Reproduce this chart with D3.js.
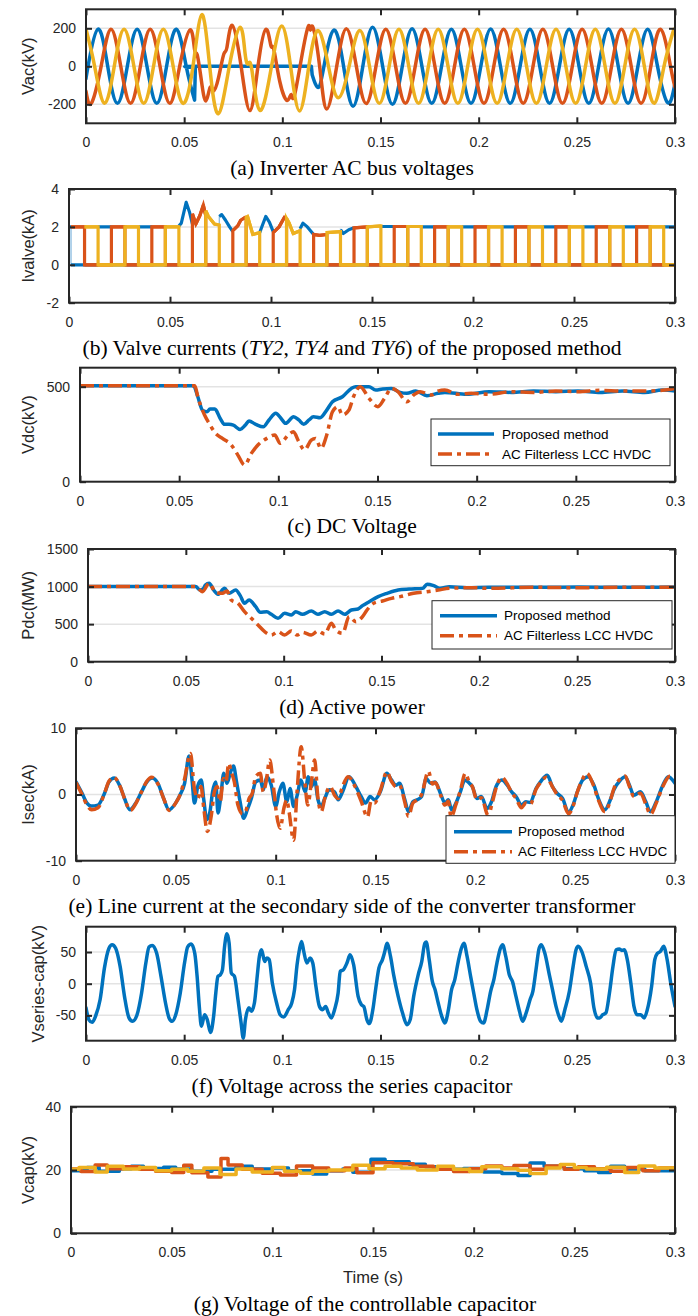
<!DOCTYPE html>
<html><head><meta charset="utf-8">
<script src="https://cdn.jsdelivr.net/npm/d3@7"></script>
<style>
body{margin:0;background:#fff;}
svg{display:block;}
</style></head><body>
<script>
// ---------------- DATA ----------------
const xTicks = [0, 0.05, 0.1, 0.15, 0.2, 0.25, 0.3];
const xTickLabels = ['0', '0.05', '0.1', '0.15', '0.2', '0.25', '0.3'];
const seriesNames = ['Proposed method', 'AC Filterless LCC HVDC'];

// (a) Inverter AC bus voltages (kV); null = straight join
const vacA = [[0,-65],[0.00105,0],[0.00605,195],[0.01105,0],[0.01605,-195],[0.02105,0],[0.02605,195],[0.03105,0],[0.03605,-195],[0.04105,0],[0.04605,195],[0.05105,0],[0.0553,-178],
 null,[0.0557,-5],[0.0561,0],[0.1148,0],
 null,[0.1152,-45],[0.1168,-92],[0.1188,-108],[0.1212,0],[0.1262,190],[0.1312,0],[0.136,-210],[0.141,0],[0.146,205],[0.1511,0],[0.1561,-200],[0.1611,0],[0.1661,197],[0.1711,0],[0.1761,-195],[0.1811,0],[0.1861,195],[0.1911,0],[0.1961,-195],[0.2011,0],[0.2061,196],[0.2111,0],[0.2161,-195],[0.2211,0],[0.2261,195],[0.2311,0],[0.2361,-195],[0.2411,0],[0.2461,195],[0.2511,0],[0.2561,-195],[0.2611,0],[0.2661,196],[0.2711,0],[0.2761,-195],[0.2811,0],[0.2861,195],[0.2911,0],[0.2963,-192],[0.3,-90]];
const vacB = [[0,-132],[0.0027,-195],[0.0077,0],[0.0127,195],[0.0177,0],[0.0227,-195],[0.0277,0],[0.0327,195],[0.0377,0],[0.0427,-195],[0.0477,0],[0.053,192],[0.0553,88],[0.0566,62],[0.0587,-70],[0.061,-183],[0.0632,-112],[0.065,-130],[0.0675,-60],[0.0702,65],[0.0718,100],[0.0745,215],[0.079,0],[0.0835,-233],[0.0876,0],[0.0916,195],[0.0942,108],[0.0956,92],[0.0987,-80],[0.1025,-180],[0.1045,-148],[0.106,-160],[0.1097,40],[0.1132,210],[0.1143,190],[0.1156,205],[0.119,0],[0.1226,-225],[0.1277,0],[0.1327,197],[0.1377,0],[0.1427,-196],[0.1477,0],[0.1527,195],[0.1577,0],[0.1627,-195],[0.1677,0],[0.1727,195],[0.1777,0],[0.1827,-195],[0.1877,0],[0.1927,195],[0.1977,0],[0.2027,-195],[0.2077,0],[0.2127,195],[0.2177,0],[0.2227,-195],[0.2277,0],[0.2327,195],[0.2377,0],[0.2427,-195],[0.2477,0],[0.2527,195],[0.2577,0],[0.2627,-195],[0.2677,0],[0.2727,195],[0.2777,0],[0.2827,-195],[0.2877,0],[0.2927,195],[0.2977,0],[0.3,-110]];
const vacC = [[0,195],[0.0044,0],[0.0094,-195],[0.0144,0],[0.0194,195],[0.0244,0],[0.0294,-195],[0.0344,0],[0.0394,195],[0.0444,0],[0.0494,-195],[0.0545,0],[0.059,272],[0.063,0],[0.0674,-250],[0.073,0],[0.0785,205],[0.081,70],[0.0826,12],[0.0845,-20],[0.0886,-232],[0.0945,0],[0.0997,212],[0.1042,0],[0.1088,-235],[0.1135,0],[0.1183,188],[0.1235,0],[0.1285,-165],[0.134,0],[0.1394,188],[0.1444,0],[0.1494,-195],[0.1544,0],[0.1594,195],[0.1644,0],[0.1694,-195],[0.1744,0],[0.1794,195],[0.1844,0],[0.1894,-195],[0.1944,0],[0.1994,195],[0.2044,0],[0.2094,-195],[0.2144,0],[0.2194,195],[0.2244,0],[0.2294,-195],[0.2344,0],[0.2394,195],[0.2444,0],[0.2494,-195],[0.2544,0],[0.2594,195],[0.2644,0],[0.2694,-195],[0.2744,0],[0.2794,195],[0.2844,0],[0.2894,-195],[0.2944,0],[0.2994,195]];

// (b) Valve currents (kA): normal pulses [on, off, level], fault pulse profiles [[t,v],...]
const ty2Pulses = [[0,0.001,2.0],[0.0144,0.0211,2.0],[0.0344,0.0411,2.0],[0.1544,0.1611,2.02],[0.1744,0.1811,2.0],[0.1944,0.2011,2.0],[0.2144,0.2211,2.0],[0.2344,0.2411,2.0],[0.2544,0.2611,2.0],[0.2744,0.2811,2.0],[0.2944,0.3,2.0]];
const ty2Fault = [[[0.0544,2.05],[0.0556,2.2],[0.058,3.3],[0.0596,2.8],[0.0611,2.15]],
 [[0.0744,2.55],[0.0756,2.65],[0.0775,2.35],[0.0795,2.0],[0.0811,1.75]],
 [[0.0944,1.7],[0.0958,2.1],[0.0974,2.55],[0.0992,2.25],[0.1011,1.75]],
 [[0.1144,1.9],[0.1158,2.2],[0.118,2.0],[0.1211,1.6]],
 [[0.1344,1.85],[0.1358,1.65],[0.1385,1.85],[0.1411,1.95]]];
const ty4Pulses = [[0.001,0.0077,2.0],[0.021,0.0277,2.0],[0.041,0.0477,2.0],[0.161,0.1677,2.02],[0.181,0.1877,2.0],[0.201,0.2077,2.0],[0.221,0.2277,2.0],[0.241,0.2477,2.0],[0.261,0.2677,2.0],[0.281,0.2877,2.0]];
const ty4Fault = [[[0.0611,2.7],[0.0628,2.15],[0.0648,2.6],[0.0665,3.15],[0.0677,2.6]],
 [[0.0811,1.8],[0.0835,2.05],[0.085,2.35],[0.0872,2.5],[0.0877,2.45]],
 [[0.1011,1.7],[0.104,2.0],[0.1066,2.5],[0.1077,2.4]],
 [[0.1211,1.6],[0.124,1.55],[0.1277,1.6]],
 [[0.1411,1.95],[0.1477,2.0]]];
const ty6Pulses = [[0.0077,0.0144,2.0],[0.0277,0.0344,2.0],[0.0477,0.0544,2.0],[0.1677,0.1744,2.02],[0.1877,0.1944,2.0],[0.2077,0.2144,2.0],[0.2277,0.2344,2.0],[0.2477,0.2544,2.0],[0.2677,0.2744,2.0],[0.2877,0.2944,2.0]];
const ty6Fault = [[[0.0677,2.85],[0.069,2.55],[0.072,2.15],[0.0744,2.1]],
 [[0.0877,2.5],[0.0884,2.55],[0.091,1.6],[0.0944,1.7]],
 [[0.1077,2.45],[0.109,2.2],[0.111,1.65],[0.1144,1.8]],
 [[0.1277,1.7],[0.1344,1.75]],
 [[0.1477,2.0],[0.1544,2.05]]];

// (c) DC voltage (kV)
const vdcProposed = [[0,505],[0.0572,505],[0.0594,447],[0.0617,377],[0.064,368],[0.0655,382],[0.068,382],[0.0707,333],[0.0729,302],[0.0751,302],[0.0773,298],[0.0807,275],[0.0834,298],[0.0852,319],[0.0886,302],[0.0924,289],[0.0953,325],[0.0987,360],[0.1014,333],[0.1036,307],[0.1077,342],[0.1103,325],[0.1128,302],[0.1155,325],[0.1177,342],[0.1211,337],[0.1244,377],[0.1273,421],[0.1323,447],[0.1368,491],[0.139,500],[0.1457,500],[0.1491,482],[0.1525,488],[0.157,491],[0.1614,470],[0.1648,465],[0.1693,477],[0.1749,453],[0.1805,465],[0.1839,470],[0.195,460],[0.2063,474],[0.2175,470],[0.2287,477],[0.2399,474],[0.2511,477],[0.2623,470],[0.2735,477],[0.2847,470],[0.2937,482],[0.3,477]];
const vdcFilterless = [[0,505],[0.0579,505],[0.0594,447],[0.0628,351],[0.0651,307],[0.0684,254],[0.0718,228],[0.0763,193],[0.0796,140],[0.083,88],[0.0864,149],[0.0897,193],[0.0942,228],[0.0982,246],[0.1009,202],[0.105,246],[0.1076,263],[0.1103,211],[0.1132,167],[0.1166,219],[0.1188,228],[0.1215,175],[0.1244,246],[0.1273,368],[0.13,395],[0.1323,351],[0.1356,377],[0.1379,447],[0.1413,500],[0.1457,439],[0.1502,395],[0.1536,439],[0.157,491],[0.1603,474],[0.1648,421],[0.1682,456],[0.1715,474],[0.1772,456],[0.1805,477],[0.1839,482],[0.1906,460],[0.1973,465],[0.2063,460],[0.2175,474],[0.2287,470],[0.2399,477],[0.2511,474],[0.2623,481],[0.2735,477],[0.2847,477],[0.2937,481],[0.3,491]];

// (d) Active power (MW)
const pdcProposed = [[0,1000],[0.055,1000],[0.0573,954],[0.0591,976],[0.06,1021],[0.0619,1043],[0.0642,954],[0.0664,897],[0.0698,976],[0.0721,910],[0.0755,954],[0.0778,879],[0.08,777],[0.0823,821],[0.0857,732],[0.088,657],[0.0914,666],[0.0937,630],[0.0971,577],[0.1005,644],[0.1039,621],[0.1062,666],[0.1096,630],[0.1141,675],[0.1175,630],[0.121,666],[0.1244,630],[0.1278,675],[0.1312,630],[0.1346,688],[0.138,701],[0.1403,746],[0.1437,799],[0.1483,866],[0.1528,910],[0.1585,954],[0.1641,967],[0.171,976],[0.1733,1030],[0.1767,1012],[0.1801,976],[0.1846,998],[0.1937,985],[0.2051,990],[0.2278,990],[0.2506,994],[0.2733,990],[0.3,994]];
const pdcFilterless = [[0,1000],[0.055,1000],[0.0585,932],[0.0619,1043],[0.0653,923],[0.0687,910],[0.071,941],[0.0732,821],[0.0767,777],[0.08,666],[0.0835,577],[0.0869,488],[0.0903,400],[0.0937,355],[0.0971,400],[0.1005,355],[0.1039,409],[0.1069,355],[0.1096,391],[0.1141,355],[0.1175,409],[0.121,369],[0.1244,511],[0.1266,422],[0.1301,378],[0.1335,599],[0.1369,533],[0.1403,599],[0.1426,688],[0.146,777],[0.1505,808],[0.1551,843],[0.1596,866],[0.1664,910],[0.1733,932],[0.179,954],[0.1846,976],[0.196,985],[0.2051,976],[0.2278,990],[0.2506,985],[0.2733,990],[0.3,990]];

// (e) Line current at transformer secondary (kA)
const isecProposed = [[0,1.9],[0.003,0.2],[0.0055,-1.3],[0.0076,-1.75],[0.011,-1.6],[0.0143,0.2],[0.0165,1.9],[0.0192,2.5],[0.0221,1.2],[0.0243,-0.6],[0.027,-2.3],[0.0299,-1.3],[0.0328,0.4],[0.0355,1.9],[0.0381,2.5],[0.041,1.7],[0.0439,-0.6],[0.0466,-2.3],[0.0499,-1.3],[0.0522,0],[0.0544,1.7],[0.0566,5.8],[0.0582,1.9],[0.0593,-1.3],[0.0611,1.4],[0.0627,2.2],[0.064,-0.8],[0.0655,-3.8],[0.0671,-2.6],[0.0684,0.4],[0.07,1.9],[0.0711,-2.8],[0.0724,-0.6],[0.074,3.2],[0.0756,1.7],[0.0774,3.4],[0.0789,4.3],[0.0804,1.9],[0.0822,-1.1],[0.084,-3.6],[0.0858,-2.3],[0.0878,-0.6],[0.09,1.9],[0.0923,2.2],[0.0938,0.7],[0.0956,2.7],[0.0978,1.4],[0.1,-1.8],[0.1018,0.4],[0.1036,1.7],[0.1056,-1.1],[0.1072,0.9],[0.109,-1.8],[0.1108,-0.1],[0.1126,2.2],[0.1148,0.4],[0.1163,2.7],[0.1179,1.2],[0.1195,2.2],[0.1212,-0.8],[0.1228,-1.8],[0.1246,-0.6],[0.1268,0.7],[0.1295,0.4],[0.1313,-0.8],[0.1335,0.4],[0.1368,2.7],[0.1402,1.2],[0.1428,-0.3],[0.145,-1.3],[0.1473,-0.3],[0.1495,-0.8],[0.1524,0.4],[0.1557,3.2],[0.158,2.2],[0.1603,1.4],[0.162,1.7],[0.1647,-0.8],[0.1665,-2.6],[0.1687,-1.1],[0.1709,-0.8],[0.1731,-0.3],[0.1754,2.4],[0.1776,1.7],[0.1798,1.9],[0.1825,0.2],[0.1848,-1.3],[0.1865,-0.8],[0.1881,-2.3],[0.1903,-1.3],[0.1925,0.4],[0.1948,2.2],[0.197,1.7],[0.1985,1.2],[0.2008,-0.6],[0.203,-0.3],[0.2059,-2.1],[0.2081,-1.1],[0.2104,1.2],[0.2133,2.2],[0.216,1.4],[0.2182,0.4],[0.2204,-0.3],[0.2231,-1.6],[0.2253,-1.1],[0.2275,-1.2],[0.2304,0.9],[0.2326,1.9],[0.236,2.9],[0.2386,1.2],[0.2409,0.2],[0.2437,-0.6],[0.2467,-2.7],[0.2489,-1.6],[0.2511,0.4],[0.2538,2.2],[0.2565,2.7],[0.2594,1.4],[0.2616,-0.6],[0.2649,-2.3],[0.2672,-1.1],[0.2694,0.7],[0.2727,2.2],[0.275,2.7],[0.2772,1.4],[0.2794,-0.1],[0.2827,0.4],[0.2854,-1.1],[0.2877,-2.6],[0.2906,-1.1],[0.2939,1.4],[0.2966,2.7],[0.3,1.7]];
const isecFilterless = [[0,1.8],[0.003,0],[0.0055,-1.6],[0.0078,-2.3],[0.011,-2.0],[0.0143,0.2],[0.0165,2.0],[0.019,2.6],[0.0221,1.2],[0.0243,-0.6],[0.0272,-2.4],[0.0299,-1.4],[0.0328,0.4],[0.0355,2.0],[0.0378,2.6],[0.041,1.6],[0.0439,-0.6],[0.0466,-2.4],[0.0499,-1.3],[0.0522,0],[0.0544,2.4],[0.0573,6.2],[0.0593,0.9],[0.0611,-0.6],[0.0626,1.2],[0.064,-2.1],[0.0658,-5.6],[0.0678,-3.1],[0.0693,0.4],[0.0707,1.2],[0.0722,-1.1],[0.0738,2.4],[0.0751,1.9],[0.0765,4.7],[0.0778,3.4],[0.0793,1.9],[0.0811,-1.6],[0.0834,-2.9],[0.0849,-2.6],[0.0867,-0.6],[0.0883,0.2],[0.09,2.7],[0.0923,3.2],[0.0938,0.4],[0.0952,1.9],[0.097,5.2],[0.099,0.9],[0.1005,-3.1],[0.1023,-5.1],[0.1041,-2.1],[0.1056,-0.8],[0.1067,-2.6],[0.109,-6.9],[0.1107,0.4],[0.1128,7.2],[0.1146,1.9],[0.1161,-1.6],[0.1179,1.9],[0.1195,5.2],[0.1212,-0.6],[0.1228,-2.6],[0.125,-0.1],[0.1273,1.2],[0.1295,-0.1],[0.1313,-0.6],[0.1335,1.2],[0.1362,2.7],[0.1402,0.9],[0.1428,-1.0],[0.146,-3.4],[0.1478,-1.0],[0.1495,-1.3],[0.1524,0.6],[0.1557,3.4],[0.158,2.0],[0.1603,1.2],[0.162,1.4],[0.1647,-1.2],[0.1665,-3.3],[0.1687,-1.3],[0.1709,-0.8],[0.1731,0],[0.1765,3.5],[0.1785,1.6],[0.18,1.8],[0.1825,0],[0.1848,-1.6],[0.1865,-1.0],[0.1878,-3.4],[0.1903,-1.5],[0.1925,0.6],[0.195,3.2],[0.197,1.8],[0.1985,1.2],[0.2008,-0.8],[0.203,-0.5],[0.2065,-3.2],[0.2085,-1.2],[0.2104,1.0],[0.2133,2.6],[0.216,1.6],[0.218,0.4],[0.2204,-0.6],[0.2231,-2.0],[0.2253,-1.3],[0.2275,-1.5],[0.2304,0.8],[0.2326,1.8],[0.2355,2.6],[0.2386,1.2],[0.2409,0],[0.2437,-0.9],[0.2467,-2.9],[0.2489,-1.8],[0.2511,0.4],[0.2538,2.4],[0.2558,3.2],[0.259,1.5],[0.2616,-0.8],[0.2649,-2.6],[0.2672,-1.3],[0.2694,0.9],[0.2727,2.4],[0.275,2.8],[0.2772,1.2],[0.2794,-0.3],[0.2827,0.2],[0.2854,-1.5],[0.2877,-3.0],[0.2906,-1.3],[0.2939,1.2],[0.2975,2.8],[0.3,2.6]];

// (f) Voltage across the series capacitor (kV)
const vSeriesCap = [[0,-38],[0.0015,-57],[0.0031,-61],[0.0049,-51],[0.0072,-25],[0.0094,25],[0.0117,56],[0.0133,61.5],[0.0151,56],[0.0174,27],[0.0196,-20],[0.0219,-54],[0.0237,-59.4],[0.026,-49],[0.0283,-15],[0.0305,33],[0.0321,58],[0.0337,60.5],[0.036,48],[0.0382,11.6],[0.0405,-30.5],[0.0423,-54],[0.0439,-59.4],[0.0457,-49],[0.048,-15],[0.0502,33],[0.0518,58],[0.0536,62.6],[0.0554,48],[0.0566,11.6],[0.0577,-35.8],[0.0588,-67],[0.0604,-49],[0.0618,-57],[0.0634,-77],[0.065,-51.5],[0.0661,-15],[0.0672,11.6],[0.0684,14],[0.0695,22],[0.0706,59],[0.0718,79],[0.0729,64],[0.074,16.8],[0.0756,11.6],[0.0774,-25],[0.079,-62],[0.0801,-86],[0.0812,-57],[0.083,-38],[0.0842,-43.6],[0.0858,-30],[0.0872,11.6],[0.0883,43],[0.0894,53.6],[0.091,35],[0.0921,40.5],[0.0933,38],[0.0949,1],[0.0971,-30.5],[0.0989,-49],[0.1007,-52.6],[0.103,-41],[0.1048,-30.5],[0.1062,-9.5],[0.1075,30],[0.1087,53.6],[0.1098,66.8],[0.1109,51],[0.1125,32.6],[0.1141,40.5],[0.1155,32.6],[0.1171,-4],[0.1189,-35.8],[0.1205,-41],[0.1221,-36],[0.1234,-46],[0.125,-54],[0.1266,-41],[0.1284,-15],[0.1295,19.5],[0.1311,22],[0.1329,32.6],[0.1345,45.7],[0.1363,30],[0.1386,-20],[0.1402,-33],[0.1415,-36],[0.1431,-57],[0.1443,-63],[0.1461,-41],[0.1476,-7],[0.1492,25],[0.151,38],[0.1522,51],[0.1533,64],[0.1551,43],[0.1567,14],[0.159,-20],[0.1612,-46],[0.1635,-64.7],[0.1651,-57],[0.1669,-20],[0.1692,14],[0.171,35],[0.1726,64],[0.1733,65.7],[0.1748,38],[0.1764,3.7],[0.1778,-9.5],[0.1794,-30.5],[0.1812,-51.5],[0.1828,-62],[0.1846,-41],[0.1862,-9.5],[0.1878,6],[0.1896,35],[0.1912,56],[0.1925,64],[0.1941,43],[0.1959,11.6],[0.1975,-15],[0.1991,-41],[0.2009,-59],[0.2025,-62],[0.2043,-41],[0.2061,-12],[0.2077,6],[0.2093,32.6],[0.2111,56],[0.2122,61.5],[0.2138,43],[0.2156,14],[0.2172,3.7],[0.219,-20],[0.2208,-43.6],[0.2224,-59.4],[0.2242,-46],[0.2262,-25],[0.2276,-12],[0.2292,22],[0.2308,56],[0.2319,61.5],[0.2337,48],[0.236,14],[0.2376,-9.5],[0.2394,-35.8],[0.2412,-54],[0.2421,-59.4],[0.2439,-41],[0.2462,-12],[0.248,25],[0.2496,53.6],[0.2507,59],[0.2525,51],[0.2548,27],[0.257,1],[0.2587,-38],[0.2605,-54],[0.2616,-54],[0.2632,-49],[0.2648,-46],[0.2666,-15],[0.2684,27],[0.27,53.6],[0.2716,54.7],[0.2729,52.6],[0.2741,53.6],[0.2757,38],[0.2775,1],[0.2791,-35.8],[0.2807,-49],[0.2825,-49],[0.2843,-54],[0.2859,-41],[0.2881,-4],[0.2897,38],[0.291,48],[0.2926,51],[0.2942,59],[0.296,38],[0.2978,1],[0.3,-35.8]];

// (g) Voltage of the controllable capacitor (kV), step values
const vcapA = [[0,19.8],[0.008,20.8],[0.014,19.6],[0.024,20.4],[0.03,21.2],[0.036,20.5],[0.046,20.9],[0.052,20.3],[0.06,19.6],[0.07,20.2],[0.082,21.2],[0.09,20.3],[0.1,20.6],[0.108,19.8],[0.12,18.7],[0.127,19.8],[0.135,20.3],[0.14,19.3],[0.149,23.4],[0.156,22.6],[0.168,21.8],[0.176,21],[0.186,20.2],[0.195,20.5],[0.205,19.4],[0.214,18.9],[0.222,18.3],[0.228,22.2],[0.235,21.2],[0.245,20.4],[0.255,19.8],[0.262,19.2],[0.268,21.2],[0.275,20.3],[0.285,19.8],[0.3,20]];
const vcapB = [[0,20.3],[0.005,19.5],[0.012,21.6],[0.018,20.4],[0.026,21],[0.034,20.2],[0.042,19.6],[0.05,19.2],[0.056,21.5],[0.06,19.1],[0.068,17.8],[0.0745,23.6],[0.078,21.6],[0.085,20.2],[0.095,19],[0.104,18.4],[0.112,21.3],[0.12,20.6],[0.128,19.8],[0.136,20.6],[0.142,19.1],[0.15,22.3],[0.16,22],[0.17,21.2],[0.18,20.2],[0.19,19.5],[0.198,20.4],[0.206,21.3],[0.214,20.6],[0.22,21.4],[0.228,20.2],[0.236,21.3],[0.245,20.2],[0.252,21],[0.26,20.4],[0.268,19.6],[0.276,20.8],[0.284,19.8],[0.292,20.6],[0.3,20.6]];
const vcapC = [[0,20.2],[0.004,20.8],[0.012,19.4],[0.018,21.2],[0.026,20.3],[0.034,20.8],[0.042,19.8],[0.05,20.2],[0.058,19.6],[0.066,20.6],[0.074,18.6],[0.082,20.3],[0.09,19.4],[0.1,20.8],[0.106,19.6],[0.114,19],[0.12,19.6],[0.128,20],[0.14,21.5],[0.148,20.4],[0.156,21.2],[0.164,20.6],[0.172,20],[0.182,21.2],[0.19,20.2],[0.198,19.5],[0.204,21],[0.214,20.4],[0.222,19.9],[0.228,18.9],[0.236,20.6],[0.243,21.7],[0.25,20.8],[0.256,20.3],[0.266,20.9],[0.275,19.2],[0.282,21.3],[0.29,20.6],[0.3,20.8]];

// ---------------- DRAWING ----------------
const W = 698, H = 1316, RIGHT = 675;
const COL = {blue:'#0072BD', orange:'#D95319', yellow:'#EDB120', axis:'#262626', grid:'#e3e3e3'};
const SANS = '"Liberation Sans", Arial, sans-serif';
const SERIF = '"Liberation Serif", "Times New Roman", serif';
const DASHDOT = '14,5,4,5';

const svg = d3.select('body').append('svg').attr('width', W).attr('height', H);
svg.append('rect').attr('width', W).attr('height', H).attr('fill', '#fff');

function pathFrom(points, curve, x, y) {
  const segs = [[]];
  points.forEach(p => { if (p === null) segs.push([]); else segs[segs.length - 1].push(p); });
  const gen = d3.line().x(d => x(d[0])).y(d => y(d[1])).curve(curve);
  return segs.filter(s => s.length).map((s, i) => { const d = gen(s); return i === 0 ? d : d.replace(/^M/, 'L'); }).join('');
}

// valve waveform: list of level segments (on-profiles and zero stretches between them)
function valveSegments(normal, fault, tEnd) {
  const profiles = normal.map(p => [[p[0], p[2]], [p[1], p[2]]]).concat(fault);
  profiles.sort((a, b) => a[0][0] - b[0][0]);
  const segs = [];
  let tPrev = null;
  profiles.forEach(pr => {
    if (tPrev !== null && pr[0][0] > tPrev) segs.push([[tPrev, 0], [pr[0][0], 0]]);
    segs.push(pr);
    tPrev = pr[pr.length - 1][0];
  });
  if (tPrev < tEnd) segs.push([[tPrev, 0], [tEnd, 0]]);
  return segs;
}
function segmentsToPoints(segs) {
  const pts = [];
  segs.forEach(s => s.forEach(p => pts.push(p)));
  return pts;
}

function drawPanel(cfg) {
  const x = d3.scaleLinear().domain([0, 0.3]).range([cfg.left, RIGHT]);
  const y = d3.scaleLinear().domain(cfg.yDomain).range([cfg.bottom, cfg.top]);
  const g = svg.append('g');

  g.selectAll('line.grid').data(cfg.yTicks.filter(v => v > cfg.yDomain[0] && v < cfg.yDomain[1]))
    .join('line').attr('class', 'grid')
    .attr('x1', cfg.left).attr('x2', RIGHT).attr('y1', d => y(d)).attr('y2', d => y(d))
    .attr('stroke', COL.grid).attr('stroke-width', 1.5);

  const cid = 'clip-' + cfg.id;
  g.append('clipPath').attr('id', cid).append('rect')
    .attr('x', cfg.left).attr('y', cfg.top).attr('width', RIGHT - cfg.left).attr('height', cfg.bottom - cfg.top);
  const lg = g.append('g').attr('clip-path', `url(#${cid})`);
  cfg.series.forEach(s => {
    if (s.segments) {
      const segs = s.segments(x);
      const full = d3.line().x(d => x(d[0])).y(d => y(d[1]))(segmentsToPoints(segs));
      lg.append('path').attr('d', full).attr('fill', 'none')
        .attr('stroke', s.edgeColor || s.color).attr('stroke-width', s.edgeWidth || s.width || 3.2);
      const gen = d3.line().x(d => x(d[0])).y(d => y(d[1]));
      lg.append('path').attr('d', segs.map(sg => gen(sg)).join('')).attr('fill', 'none')
        .attr('stroke', s.color).attr('stroke-width', s.width || 3.2).attr('stroke-linejoin', 'round');
      return;
    }
    lg.append('path').attr('d', pathFrom(s.data, s.curve || cfg.curve, x, y))
      .attr('fill', 'none').attr('stroke', s.color).attr('stroke-width', s.width || 3.5)
      .attr('stroke-linejoin', 'round').attr('stroke-linecap', s.dash ? 'butt' : 'round')
      .attr('stroke-dasharray', s.dash || null);
  });

  const axB = g.append('g').attr('transform', `translate(0,${cfg.bottom})`)
    .call(d3.axisBottom(x).tickValues(xTicks).tickFormat((d, i) => xTickLabels[i]).tickSizeInner(-6).tickSizeOuter(0).tickPadding(14));
  const axT = g.append('g').attr('transform', `translate(0,${cfg.top})`)
    .call(d3.axisTop(x).tickValues(xTicks).tickFormat('').tickSizeInner(-6).tickSizeOuter(0));
  const axL = g.append('g').attr('transform', `translate(${cfg.left},0)`)
    .call(d3.axisLeft(y).tickValues(cfg.yTicks).tickFormat(d => String(d)).tickSizeInner(-6).tickSizeOuter(0).tickPadding(10));
  const axR = g.append('g').attr('transform', `translate(${RIGHT},0)`)
    .call(d3.axisRight(y).tickValues(cfg.yTicks).tickFormat('').tickSizeInner(-6).tickSizeOuter(0));
  [axB, axT, axL, axR].forEach(a => {
    a.select('.domain').remove();
    a.selectAll('.tick line').attr('stroke', COL.axis).attr('stroke-width', 2);
    a.selectAll('.tick text').attr('fill', COL.axis).style('font-family', SANS).style('font-size', '14px');
  });
  g.append('rect').attr('x', cfg.left).attr('y', cfg.top).attr('width', RIGHT - cfg.left).attr('height', cfg.bottom - cfg.top)
    .attr('fill', 'none').attr('stroke', COL.axis).attr('stroke-width', 2);

  g.append('text').attr('transform', `translate(${cfg.yLabelX},${(cfg.top + cfg.bottom) / 2}) rotate(-90)`)
    .attr('text-anchor', 'middle').attr('dominant-baseline', 'central')
    .style('font-family', SANS).style('font-size', '16.5px').attr('fill', COL.axis).text(cfg.yLabel);

  if (cfg.legend) {
    const L = cfg.legend;
    g.append('rect').attr('x', L.x0).attr('y', L.y0).attr('width', L.x1 - L.x0).attr('height', L.y1 - L.y0)
      .attr('fill', '#fff').attr('stroke', COL.axis).attr('stroke-width', 1);
    L.items.forEach((it, i) => {
      const yy = L.rows[i];
      g.append('line').attr('x1', L.s0).attr('x2', L.s1).attr('y1', yy).attr('y2', yy)
        .attr('stroke', it.color).attr('stroke-width', 3.5).attr('stroke-dasharray', it.dash || null);
      g.append('text').attr('x', L.tx).attr('y', yy).attr('dominant-baseline', 'central')
        .style('font-family', SANS).style('font-size', '13.5px').attr('fill', '#000').text(it.name);
    });
  }

  const cap = g.append('text').attr('x', cfg.capX || 352).attr('y', cfg.capY).attr('dy', '0.35em')
    .attr('text-anchor', 'middle').style('font-family', SERIF).style('font-size', '21.5px').attr('fill', '#000');
  cfg.caption.forEach(part => {
    cap.append('tspan').style('font-style', part.i ? 'italic' : 'normal').text(part.t);
  });
}

const legendItems = [
  {name: seriesNames[0], color: COL.blue},
  {name: seriesNames[1], color: COL.orange, dash: DASHDOT}
];

drawPanel({id: 'a', left: 86, top: 9.3, bottom: 123.3, yDomain: [-300, 300], yTicks: [-200, 0, 200],
  yLabel: 'Vac(kV)', yLabelX: 28, capY: 167, curve: d3.curveNatural,
  caption: [{t: '(a) Inverter AC bus voltages'}],
  series: [{data: vacA, color: COL.blue}, {data: vacB, color: COL.orange}, {data: vacC, color: COL.yellow}]});

drawPanel({id: 'b', left: 69, top: 189, bottom: 302.7, yDomain: [-2, 4], yTicks: [-2, 0, 2, 4],
  yLabel: 'Ivalve(kA)', yLabelX: 28, capY: 347, curve: d3.curveLinear,
  caption: [{t: '(b) Valve currents ('}, {t: 'TY2', i: 1}, {t: ', '}, {t: 'TY4', i: 1}, {t: ' and '}, {t: 'TY6', i: 1}, {t: ') of the proposed method'}],
  series: [
    {segments: x => valveSegments(ty2Pulses, ty2Fault, x.domain()[1]), color: COL.blue, edgeColor: '#7fb5dd', edgeWidth: 1.2},
    {segments: x => valveSegments(ty4Pulses, ty4Fault, x.domain()[1]), color: COL.orange},
    {segments: x => valveSegments(ty6Pulses, ty6Fault, x.domain()[1]), color: COL.yellow}]});

drawPanel({id: 'c', left: 80, top: 367.7, bottom: 481.7, yDomain: [0, 600], yTicks: [0, 500],
  yLabel: 'Vdc(kV)', yLabelX: 28, capY: 525, curve: d3.curveMonotoneX,
  caption: [{t: '(c) DC Voltage'}],
  series: [{data: vdcProposed, color: COL.blue}, {data: vdcFilterless, color: COL.orange, dash: DASHDOT}],
  legend: {x0: 431, x1: 670, y0: 419, y1: 465.7, rows: [434, 454], s0: 438, s1: 494, tx: 502, items: legendItems}});

drawPanel({id: 'd', left: 88, top: 549, bottom: 661.7, yDomain: [0, 1500], yTicks: [0, 500, 1000, 1500],
  yLabel: 'Pdc(MW)', yLabelX: 28, capY: 706.7, curve: d3.curveMonotoneX,
  caption: [{t: '(d) Active power'}],
  series: [{data: pdcProposed, color: COL.blue}, {data: pdcFilterless, color: COL.orange, dash: DASHDOT}],
  legend: {x0: 432, x1: 672, y0: 600.7, y1: 649, rows: [615.7, 635.7], s0: 440, s1: 497, tx: 504, items: legendItems}});

drawPanel({id: 'e', left: 76, top: 728.3, bottom: 860.7, yDomain: [-10, 10], yTicks: [-10, 0, 10],
  yLabel: 'Isec(kA)', yLabelX: 28, capY: 905, curve: d3.curveMonotoneX,
  caption: [{t: '(e) Line current at the secondary side of the converter transformer'}],
  series: [{data: isecProposed, color: COL.blue}, {data: isecFilterless, color: COL.orange, dash: DASHDOT}],
  legend: {x0: 446, x1: 675, y0: 815.7, y1: 863.3, rows: [831.7, 851.7], s0: 454, s1: 512, tx: 518, items: legendItems}});

drawPanel({id: 'f', left: 86, top: 926.7, bottom: 1040.7, yDomain: [-90, 90], yTicks: [-50, 0, 50],
  yLabel: 'Vseries-cap(kV)', yLabelX: 37.7, capY: 1085, curve: d3.curveMonotoneX,
  caption: [{t: '(f) Voltage across the series capacitor'}],
  series: [{data: vSeriesCap, color: COL.blue}]});

drawPanel({id: 'g', left: 71, top: 1106.7, bottom: 1233.3, yDomain: [0, 40], yTicks: [0, 20, 40],
  yLabel: 'Vcap(kV)', yLabelX: 28, capY: 1303.3, capX: 365, curve: d3.curveStepAfter,
  caption: [{t: '(g) Voltage of the controllable capacitor'}],
  series: [{data: vcapA, color: COL.blue}, {data: vcapB, color: COL.orange}, {data: vcapC, color: COL.yellow}]});

svg.append('text').attr('x', 373).attr('y', 1277.7).attr('dy', '0.35em').attr('text-anchor', 'middle')
  .style('font-family', SANS).style('font-size', '16.5px').attr('fill', COL.axis).text('Time (s)');
</script>
</body></html>
